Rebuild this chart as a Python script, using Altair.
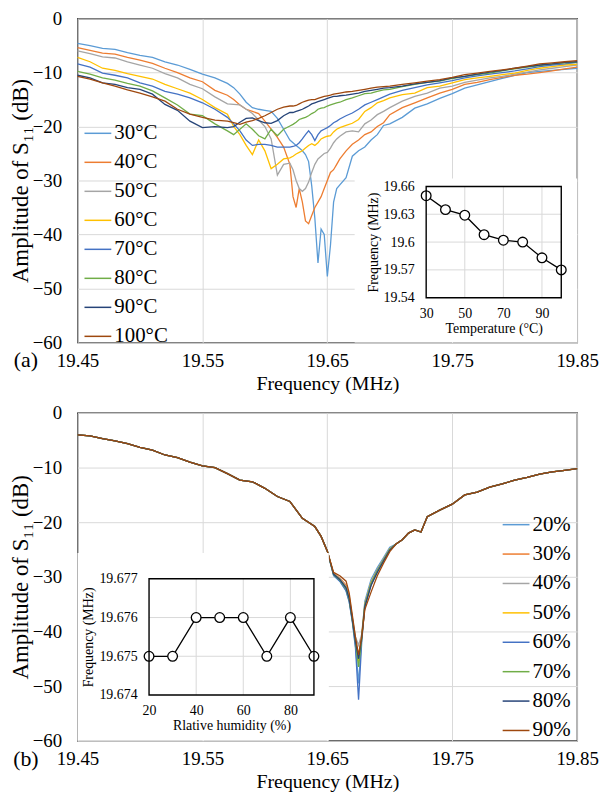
import altair as alt
import pandas as pd

FONT = "Liberation Serif, Times New Roman, Times, serif"
GRID = "#D9D9D9"
COLORS = ["#5B9BD5", "#ED7D31", "#A5A5A5", "#FFC000", "#4472C4", "#70AD47", "#264478", "#9E480E"]

# ---------------- panel (a): temperature ----------------
freq_a = [19.45, 19.46, 19.47, 19.48, 19.49, 19.50, 19.51, 19.52, 19.53, 19.54, 19.55, 19.56, 19.57,
          19.575, 19.58, 19.585, 19.59, 19.595, 19.60, 19.605, 19.61, 19.615,
          19.62, 19.6225, 19.625, 19.6275, 19.63, 19.6325, 19.635, 19.6375, 19.64, 19.6425, 19.645,
          19.6475, 19.65, 19.6525, 19.655, 19.6575, 19.66,
          19.665, 19.67, 19.675, 19.68, 19.685, 19.69, 19.695, 19.70,
          19.71, 19.72, 19.73, 19.74, 19.75, 19.76, 19.77, 19.78, 19.79, 19.80, 19.81, 19.82, 19.83, 19.84, 19.85]

temp_labels = ["30°C", "40°C", "50°C", "60°C", "70°C", "80°C", "90°C", "100°C"]

amp_30 = [-4.6, -5.0, -5.5, -5.7, -6.3, -6.8, -7.2, -8.0, -8.6, -9.4, -10.3, -11.0, -12.0,
          -12.8, -14.0, -15.5, -16.5, -16.8, -17.0, -17.2, -18.5, -20.5,
          -22.5, -23.0, -23.5, -24.0, -24.5, -25.2, -26.5, -31.0, -37.0, -45.3, -39.0, -40.0, -47.8, -42.0, -34.0, -31.5, -30.8,
          -29.5, -25.5, -24.5, -23.8, -22.5, -21.5, -19.8, -19.5,
          -18.3, -16.6, -15.8, -14.8, -13.9, -12.9, -12.3, -11.7, -11.1, -10.5, -10.0, -9.8, -9.6, -9.4, -9.2]
amp_40 = [-5.4, -5.9, -6.4, -6.6, -7.2, -7.7, -8.3, -9.2, -10.0, -11.0, -11.7, -13.3, -14.2,
          -15.0, -16.0, -16.8, -17.2, -17.6, -19.0, -20.5, -22.0, -23.8,
          -27.0, -33.0, -35.0, -31.5, -34.0, -37.5, -38.0, -36.5, -35.0, -34.0, -33.0, -31.5, -30.0, -28.5, -28.0, -27.0, -26.0,
          -24.5, -23.3, -22.5, -21.5, -21.0, -20.0, -19.3, -17.8,
          -16.5, -15.6, -14.7, -13.8, -13.1, -12.2, -11.8, -11.3, -10.9, -10.5, -10.3, -10.0, -9.7, -9.3, -9.0]
amp_50 = [-6.0, -6.5, -7.1, -7.3, -8.0, -8.6, -9.2, -10.2, -11.0, -12.2, -13.0, -14.5, -15.8,
          -15.9, -16.0, -16.8, -17.6, -18.8, -20.0, -22.3, -29.0, -27.0,
          -26.8, -28.0, -30.0, -31.5, -32.0, -31.5, -30.3, -28.5, -27.0, -26.0, -25.5, -25.0, -24.8, -24.0, -23.0, -22.3, -21.8,
          -21.0, -20.8, -21.0, -19.5, -18.8, -17.8, -17.2, -16.5,
          -15.3, -14.4, -13.8, -12.9, -12.5, -11.8, -11.4, -11.0, -10.7, -10.3, -9.9, -9.5, -9.2, -8.9, -8.6]
amp_60 = [-7.2, -8.0, -9.2, -9.6, -10.2, -10.7, -11.2, -12.2, -13.0, -13.8, -15.0, -16.5, -17.7,
          -20.0, -21.5, -23.5, -25.2, -22.5, -24.5, -27.8, -27.0, -26.0,
          -25.8, -25.5, -25.1, -24.8, -24.5, -24.0, -23.5, -23.2, -23.5, -23.0, -22.3, -22.0, -21.8, -21.7, -21.0, -20.5, -20.2,
          -19.8, -19.4, -18.7, -17.2, -16.5, -15.6, -15.2, -14.7,
          -14.1, -13.8, -12.8, -12.5, -11.9, -11.3, -11.0, -10.7, -10.4, -10.1, -9.6, -9.2, -8.9, -8.6, -8.5]
amp_70 = [-8.4, -9.0, -10.1, -10.5, -11.0, -11.9, -12.5, -13.5, -14.0, -14.7, -15.6, -16.8, -18.3,
          -19.5, -20.8, -22.5, -23.5, -23.3, -23.3, -23.5, -23.8, -23.8,
          -23.8, -23.7, -23.5, -23.0, -22.3, -21.5, -20.8, -21.5, -22.6, -21.5, -20.8, -20.5, -20.2, -19.8, -19.3, -19.0, -18.6,
          -18.0, -17.5, -16.8, -16.0, -15.5, -15.0, -14.5, -14.0,
          -13.3, -12.8, -12.3, -11.9, -11.5, -11.0, -10.6, -10.3, -10.0, -9.7, -9.3, -8.9, -8.6, -8.4, -8.1]
amp_80 = [-9.8, -10.3, -11.0, -11.4, -12.0, -12.5, -13.4, -14.7, -16.0, -17.7, -18.0, -19.5, -20.8,
          -21.5, -20.5, -19.5, -20.5, -21.7, -22.3, -20.5, -21.7, -20.5,
          -19.9, -19.6, -19.2, -18.7, -18.5, -18.3, -18.0, -17.6, -17.3, -16.8, -16.6, -16.5, -16.2, -16.0, -15.8, -15.6, -15.5,
          -15.0, -14.7, -14.3, -13.9, -13.8, -13.5, -13.2, -13.1,
          -12.6, -12.2, -11.8, -11.6, -11.1, -10.7, -10.4, -10.1, -9.7, -9.3, -9.0, -8.7, -8.4, -8.2, -8.1]
amp_90 = [-10.5, -11.0, -11.9, -12.2, -12.8, -13.1, -14.0, -15.9, -17.0, -19.0, -20.2, -20.0, -20.2,
          -20.0, -19.2, -18.5, -18.4, -18.9, -19.3, -19.4, -18.9, -18.0,
          -17.4, -17.4, -17.2, -17.0, -16.8, -16.5, -16.2, -15.8, -15.6, -15.4, -15.2, -15.0, -14.8, -14.6, -14.4, -14.4, -14.3,
          -14.2, -14.0, -13.8, -13.5, -13.3, -13.1, -12.9, -12.8,
          -12.5, -12.1, -11.8, -11.5, -11.0, -10.7, -10.3, -9.9, -9.6, -9.2, -8.9, -8.6, -8.4, -8.1, -8.0]
amp_100 = [-10.7, -11.2, -11.9, -12.5, -13.2, -13.8, -14.5, -15.3, -16.8, -17.7, -18.3, -18.8, -19.0,
           -19.3, -19.6, -19.2, -18.9, -18.5, -18.0, -17.4, -16.8, -16.4,
           -16.2, -16.2, -16.1, -15.8, -15.5, -15.3, -15.1, -15.0, -15.0, -14.8, -14.6, -14.4, -14.3, -14.2, -14.0, -13.9, -13.8,
           -13.6, -13.5, -13.3, -13.1, -12.9, -12.7, -12.6, -12.5,
           -12.2, -11.9, -11.6, -11.3, -10.9, -10.4, -10.1, -9.8, -9.5, -9.2, -8.8, -8.4, -8.2, -8.0, -7.8]
temp_series = [amp_30, amp_40, amp_50, amp_60, amp_70, amp_80, amp_90, amp_100]

inset_temp = [30, 40, 50, 60, 70, 80, 90, 100]
inset_temp_freq = [19.650, 19.635, 19.629, 19.608, 19.602, 19.600, 19.583, 19.570]
inset_a_xticks = [30, 50, 70, 90]
inset_a_yticks = [19.54, 19.57, 19.6, 19.63, 19.66]
inset_a_xdom = [30, 100]
inset_a_ydom = [19.54, 19.66]

# ---------------- panel (b): humidity ----------------
rh_labels = ["20%", "30%", "40%", "50%", "60%", "70%", "80%", "90%"]
freq_b_left = [19.45, 19.46, 19.47, 19.48, 19.49, 19.50, 19.51, 19.52, 19.53, 19.54, 19.55,
               19.56, 19.57, 19.58, 19.59, 19.60, 19.61, 19.62, 19.63, 19.64, 19.645, 19.65]
amp_b_left = [-4.0, -4.2, -4.7, -5.1, -5.6, -6.3, -6.8, -7.7, -8.2, -9.0, -9.7,
              -10.0, -11.1, -12.3, -12.6, -13.8, -15.3, -16.2, -19.3, -20.8, -22.6, -25.3]
freq_b_dip = [19.655, 19.66, 19.665, 19.6675, 19.67, 19.6725, 19.675, 19.6775, 19.68, 19.685, 19.69, 19.695, 19.70]
dip_20 = [-29.8, -30.8, -32.5, -34.5, -38.0, -42.5, -49.5, -41.0, -34.5, -30.5, -28.3, -26.5, -24.6]
dip_30 = [-29.4, -30.2, -31.5, -33.5, -37.5, -41.5, -44.5, -41.0, -35.5, -31.5, -29.0, -27.0, -25.0]
dip_40 = [-29.5, -30.3, -31.8, -33.8, -37.5, -41.0, -42.5, -40.5, -35.0, -31.0, -28.8, -26.8, -24.9]
dip_50 = [-29.5, -30.5, -32.0, -34.0, -37.8, -41.8, -45.5, -41.0, -35.0, -31.0, -28.7, -26.8, -24.9]
dip_60 = [-29.7, -30.8, -32.6, -34.6, -38.2, -43.0, -52.5, -42.0, -35.2, -31.2, -28.8, -26.9, -25.0]
dip_70 = [-29.6, -30.6, -32.2, -34.2, -38.0, -42.0, -46.5, -41.5, -35.3, -31.3, -29.0, -27.0, -25.0]
dip_80 = [-29.5, -30.5, -32.0, -34.0, -37.8, -41.8, -45.0, -41.2, -35.5, -31.6, -29.2, -27.1, -25.1]
dip_90 = [-29.2, -29.8, -30.8, -33.0, -37.0, -41.0, -44.3, -41.0, -36.0, -32.8, -29.8, -27.5, -25.4]
freq_b_right = [19.705, 19.71, 19.715, 19.72, 19.725, 19.73, 19.74, 19.75, 19.76, 19.77, 19.78,
                19.79, 19.80, 19.81, 19.82, 19.83, 19.84, 19.85]
amp_b_right = [-24.0, -23.2, -22.0, -21.4, -21.8, -19.0, -17.8, -16.7, -15.0, -14.5, -13.6,
               -13.0, -12.3, -11.8, -11.2, -10.8, -10.5, -10.2]
rh_dips = [dip_20, dip_30, dip_40, dip_50, dip_60, dip_70, dip_80, dip_90]

inset_rh = [20, 30, 40, 50, 60, 70, 80, 90]
inset_rh_freq = [19.675, 19.675, 19.676, 19.676, 19.676, 19.675, 19.676, 19.675]
inset_b_xticks = [20, 40, 60, 80]
inset_b_yticks = [19.674, 19.675, 19.676, 19.677]
inset_b_xdom = [20, 90]
inset_b_ydom = [19.674, 19.677]

main_x_ticks = [19.45, 19.55, 19.65, 19.75, 19.85]
main_y_ticks = [-60, -50, -40, -30, -20, -10, 0]

# ---------------- build tables ----------------
rows_a = []
for lab, vals in zip(temp_labels, temp_series):
    for f, v in zip(freq_a, vals):
        rows_a.append({"freq": f, "amp": v, "series": lab})
df_a = pd.DataFrame(rows_a)

rows_b = []
freq_b = freq_b_left + freq_b_dip + freq_b_right
for lab, dip in zip(rh_labels, rh_dips):
    vals = amp_b_left + dip + amp_b_right
    for f, v in zip(freq_b, vals):
        rows_b.append({"freq": f, "amp": v, "series": lab})
df_b = pd.DataFrame(rows_b)


def main_axes():
    ax_x = alt.Axis(values=main_x_ticks, format=".2f", grid=True, gridColor=GRID, gridWidth=1,
                    domain=False, ticks=False, labelFontSize=19, labelPadding=9, labelFlush=False,
                    labelOverlap=False, title="Frequency (MHz)", titleFontSize=20, titlePadding=3)
    ax_y = alt.Axis(values=main_y_ticks, format="d", grid=True, gridColor=GRID, gridWidth=1,
                    domain=False, ticks=False, labelFontSize=19, labelPadding=16, labelFlush=False,
                    labelOverlap=False, title="Amplitude of S₁₁ (dB)", titleFontSize=23, titlePadding=0)
    return ax_x, ax_y


def panel(df, labels, legend_x, legend_y, row_pad, height, inset_df, in_x, in_y,
          xdom, ydom, xticks, yticks, xrange_, yrange_, xtitle, bg_box, tag):
    ax_x, ax_y = main_axes()
    main = alt.Chart(df).mark_line(strokeWidth=1.3).encode(
        x=alt.X("freq:Q", scale=alt.Scale(domain=[19.45, 19.85], nice=False, zero=False), axis=ax_x),
        y=alt.Y("amp:Q", scale=alt.Scale(domain=[-60, 0], nice=False, zero=False), axis=ax_y),
        color=alt.Color("series:N", sort=labels,
                        scale=alt.Scale(domain=labels, range=COLORS),
                        legend=alt.Legend(title=None, orient="none", legendX=legend_x, legendY=legend_y,
                                          symbolType="stroke", symbolSize=729, symbolStrokeWidth=1.5,
                                          labelFontSize=21, labelFont=FONT, labelColor="black",
                                          labelOffset=2, rowPadding=row_pad, padding=0)),
    )
    bg = alt.Chart(pd.DataFrame({"k": [0]})).mark_rect(fill="white", strokeWidth=0).encode(
        x=alt.value(bg_box[0]), x2=alt.value(bg_box[1]), y=alt.value(bg_box[2]), y2=alt.value(bg_box[3]))

    sx = alt.Scale(domain=xdom, range=xrange_, nice=False, zero=False)
    sy = alt.Scale(domain=ydom, range=yrange_, nice=False, zero=False)
    off_x = -(height - yrange_[0])
    off_y = -xrange_[0]
    ax_ix = alt.Axis(orient="bottom", offset=off_x, values=xticks, format="d", grid=False, domain=False,
                     ticks=False, labelFontSize=14, labelPadding=9, labelFlush=False, labelOverlap=False,
                     title=xtitle, titleFontSize=14, titlePadding=1, zindex=3)
    ax_iy = alt.Axis(orient="left", offset=off_y, values=yticks, format="~r", grid=False, domain=False,
                     ticks=False, labelFontSize=14, labelPadding=12, labelFlush=False, labelOverlap=False,
                     title="Frequency (MHz)", titleFontSize=14, titlePadding=3, zindex=3)

    gv = pd.DataFrame({"t": [v for v in xticks if v != xdom[0]], "lo": ydom[0], "hi": ydom[1]})
    gh = pd.DataFrame({"f": [v for v in yticks if v not in (ydom[0], ydom[1])], "lo": xdom[0], "hi": xdom[1]})
    grid_v = alt.Chart(gv).mark_rule(color=GRID, strokeWidth=1).encode(
        x=alt.X("t:Q", scale=sx, axis=ax_ix), y=alt.Y("lo:Q", scale=sy, axis=ax_iy), y2="hi:Q")
    grid_h = alt.Chart(gh).mark_rule(color=GRID, strokeWidth=1).encode(
        y=alt.Y("f:Q", scale=sy, axis=ax_iy), x=alt.X("lo:Q", scale=sx, axis=ax_ix), x2="hi:Q")
    line = alt.Chart(inset_df).mark_line(color="black", strokeWidth=1.3).encode(
        x=alt.X(f"{in_x}:Q", scale=sx, axis=ax_ix), y=alt.Y(f"{in_y}:Q", scale=sy, axis=ax_iy))
    pts = alt.Chart(inset_df).mark_point(shape="circle", size=95, fill="white", fillOpacity=1,
                                         stroke="black", strokeWidth=1.3, opacity=1).encode(
        x=alt.X(f"{in_x}:Q", scale=sx, axis=ax_ix), y=alt.Y(f"{in_y}:Q", scale=sy, axis=ax_iy))
    fr = pd.DataFrame({"x0": [xdom[0]], "x1": [xdom[1]], "y0": [ydom[0]], "y1": [ydom[1]]})
    frame = alt.Chart(fr).mark_rect(fillOpacity=0, stroke="black", strokeWidth=1.4).encode(
        x=alt.X("x0:Q", scale=sx, axis=ax_ix), x2="x1:Q", y=alt.Y("y0:Q", scale=sy, axis=ax_iy), y2="y1:Q")
    inset = alt.layer(grid_v, grid_h, line, pts, frame)

    lab = alt.Chart(pd.DataFrame({"lab": [tag]})).mark_text(
        font=FONT, fontSize=22, color="black", align="center", baseline="middle").encode(
        x=alt.value(-52), y=alt.value(height + 18), text="lab:N")

    return alt.layer(main, bg, inset, lab).resolve_scale(x="independent", y="independent").properties(
        width=503, height=height)


inset_a_df = pd.DataFrame({"temp": inset_temp, "f": inset_temp_freq})
inset_b_df = pd.DataFrame({"rh": inset_rh, "f": inset_rh_freq})

panel_a = panel(df_a, temp_labels, 6, 101, 4.2, 326, inset_a_df, "temp", "f",
                inset_a_xdom, inset_a_ydom, inset_a_xticks, inset_a_yticks,
                [351, 487], [281, 169], "Temperature (°C)", [279, 503, 161, 326], "(a)")
panel_b = panel(df_b, rh_labels, 427, 98, 4.6, 330, inset_b_df, "rh", "f",
                inset_b_xdom, inset_b_ydom, inset_b_xticks, inset_b_yticks,
                [72, 238], [284, 167], "Rlative humidity (%)", [0, 253, 141, 330], "(b)")

PAD = {"left": 0, "top": -2, "right": 0, "bottom": 0}
chart = alt.vconcat(panel_a, panel_b, spacing=9).resolve_scale(color="independent").resolve_legend(
    color="independent").properties(
    padding=PAD, autosize=alt.AutoSizeParams(type="pad")
).configure(padding=PAD).configure_view(stroke="black", strokeWidth=1.3).configure_axis(
    labelColor="black", titleColor="black", labelFont=FONT, titleFont=FONT, titleFontWeight="normal")

chart.save("out.html", embed_options={"renderer": "svg", "actions": False, "padding": PAD})
